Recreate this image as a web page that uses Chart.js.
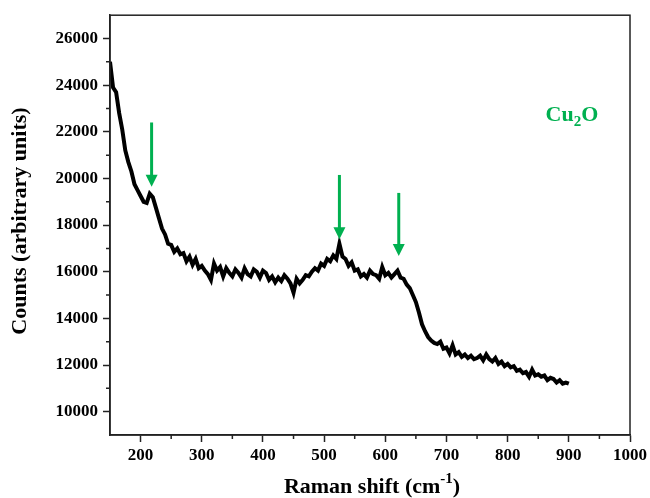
<!DOCTYPE html>
<html>
<head>
<meta charset="utf-8">
<script src="https://cdn.jsdelivr.net/npm/chart.js@4.4.1/dist/chart.umd.min.js"></script>
<style>
  html, body { margin: 0; padding: 0; background: #fff; }
  #wrap { width: 650px; height: 498px; }
</style>
</head>
<body>
<div id="wrap"><canvas id="ramanChart"></canvas></div>
<script>
// Raman spectrum, counts every 5 cm-1 from 150 to 900
const shiftStart = 150;
const shiftStep = 5;
const counts = [
  25000, 23900, 23700, 22800, 22100, 21200, 20700, 20300, 19750, 19500,
  19250, 19000, 18950, 19350, 19200, 18750, 18300, 17850, 17600, 17200,
  17150, 16850, 17000, 16750, 16800, 16450, 16650, 16300, 16550, 16150,
  16250, 16050, 15900, 15650, 16350, 16050, 16200, 15800, 16150, 15950,
  15800, 16100, 15950, 15750, 16150, 15900, 15800, 16100, 16000, 15750,
  16050, 15950, 15650, 15800, 15550, 15750, 15600, 15850, 15700, 15500,
  15100, 15700, 15500, 15650, 15850, 15800, 16000, 16150, 16050, 16350,
  16250, 16550, 16450, 16700, 16550, 17200, 16650, 16550, 16250, 16400,
  16050, 16100, 15800, 15900, 15750, 16050, 15900, 15850, 15700, 16200,
  15850, 15950, 15750, 15900, 16050, 15750, 15700, 15450, 15300, 15000,
  14700, 14250, 13750, 13450, 13200, 13050, 12950, 12900, 13000, 12700,
  12750, 12500, 12850, 12450, 12550, 12350, 12450, 12300, 12400, 12250,
  12300, 12400, 12200, 12450, 12250, 12150, 12300, 12050, 12150, 11950,
  12050, 11900, 11950, 11750, 11800, 11650, 11700, 11500, 11800, 11550,
  11600, 11500, 11550, 11350, 11450, 11400, 11250, 11350, 11200, 11250,
  11200
];

// axis ticks
const xTicks = [200, 300, 400, 500, 600, 700, 800, 900, 1000];
const yTicks = [10000, 12000, 14000, 16000, 18000, 20000, 22000, 24000, 26000];

// peak arrows (position, arrow top, arrow tip)
const peakShift = [218, 525, 622];
const arrowTop = [22400, 20150, 19380];
const arrowTip = [19640, 17390, 16670];

const green = '#00b050';
const serif = '"Liberation Serif", "Times New Roman", serif';

const points = counts.map((c, i) => ({ x: shiftStart + i * shiftStep, y: c }));

const decorPlugin = {
  id: 'decor',
  afterDraw(chart) {
    const ctx = chart.ctx;
    const area = chart.chartArea;
    const xs = chart.scales.x, ys = chart.scales.y;

    ctx.save();
    // frame
    ctx.strokeStyle = '#222';
    ctx.lineWidth = 1.5;
    ctx.strokeRect(area.left, area.top, area.right - area.left, area.bottom - area.top);

    // minor ticks
    ctx.beginPath();
    for (let v = 250; v < 1000; v += 100) {
      const px = xs.getPixelForValue(v);
      ctx.moveTo(px, area.bottom);
      ctx.lineTo(px, area.bottom + 4);
    }
    for (let v = 11000; v < 27000; v += 2000) {
      const py = ys.getPixelForValue(v);
      ctx.moveTo(area.left, py);
      ctx.lineTo(area.left - 4, py);
    }
    ctx.stroke();

    // arrows
    ctx.strokeStyle = green;
    ctx.fillStyle = green;
    ctx.lineWidth = 3;
    peakShift.forEach((s, i) => {
      const px = xs.getPixelForValue(s);
      const top = ys.getPixelForValue(arrowTop[i]);
      const tip = ys.getPixelForValue(arrowTip[i]);
      ctx.beginPath();
      ctx.moveTo(px, top);
      ctx.lineTo(px, tip - 10);
      ctx.stroke();
      ctx.beginPath();
      ctx.moveTo(px - 6, tip - 12);
      ctx.lineTo(px + 6, tip - 12);
      ctx.lineTo(px, tip);
      ctx.closePath();
      ctx.fill();
    });

    // Cu2O label
    let tx = xs.getPixelForValue(862);
    const ty = ys.getPixelForValue(22700);
    ctx.textBaseline = 'alphabetic';
    ctx.textAlign = 'left';
    ctx.font = 'bold 22px ' + serif;
    ctx.fillText('Cu', tx, ty + 6);
    tx += ctx.measureText('Cu').width;
    ctx.font = 'bold 15px ' + serif;
    ctx.fillText('2', tx, ty + 11);
    tx += ctx.measureText('2').width;
    ctx.font = 'bold 22px ' + serif;
    ctx.fillText('O', tx, ty + 6);

    // x axis title with superscript
    ctx.fillStyle = '#000';
    const parts = [['Raman shift (cm', 22, 0], ['-1', 15, -10], [')', 22, 0]];
    let total = 0;
    parts.forEach(p => { ctx.font = 'bold ' + p[1] + 'px ' + serif; total += ctx.measureText(p[0]).width; });
    let cx = 372 - total / 2;
    parts.forEach(p => {
      ctx.font = 'bold ' + p[1] + 'px ' + serif;
      ctx.fillText(p[0], cx, 493 + p[2]);
      cx += ctx.measureText(p[0]).width;
    });

    // y axis title
    ctx.translate(20, 221);
    ctx.rotate(-Math.PI / 2);
    ctx.textAlign = 'center';
    ctx.textBaseline = 'middle';
    ctx.font = 'bold 22px ' + serif;
    ctx.fillText('Counts (arbitrary units)', 0, 0);
    ctx.restore();
  }
};

new Chart(document.getElementById('ramanChart'), {
  type: 'line',
  data: {
    datasets: [{
      data: points,
      borderColor: '#000',
      borderWidth: 4,
      pointRadius: 0,
      tension: 0,
      fill: false
    }]
  },
  options: {
    responsive: true,
    maintainAspectRatio: false,
    animation: false,
    layout: { padding: { left: 0, top: 12, right: 18, bottom: 0 } },
    plugins: { legend: { display: false }, tooltip: { enabled: false } },
    scales: {
      x: {
        type: 'linear',
        min: 150,
        max: 1000,
        afterBuildTicks: s => { s.ticks = xTicks.map(v => ({ value: v })); },
        afterFit: s => { s.height = 63; },
        grid: { drawOnChartArea: false, drawTicks: true, tickLength: 7, tickColor: '#222', tickWidth: 1.5 },
        border: { color: '#222', width: 1.5 },
        ticks: {
          color: '#000',
          padding: 3,
          maxRotation: 0,
          callback: v => String(v),
          font: { family: serif, size: 17, weight: 'bold' }
        }
      },
      y: {
        min: 9000,
        max: 27000,
        afterBuildTicks: s => { s.ticks = yTicks.map(v => ({ value: v })); },
        afterFit: s => { s.width = 110; },
        grid: { drawOnChartArea: false, drawTicks: true, tickLength: 7, tickColor: '#222', tickWidth: 1.5 },
        border: { color: '#222', width: 1.5 },
        ticks: {
          color: '#000',
          padding: 5,
          callback: v => String(v),
          font: { family: serif, size: 17, weight: 'bold' }
        }
      }
    }
  },
  plugins: [decorPlugin]
});
</script>
</body>
</html>
